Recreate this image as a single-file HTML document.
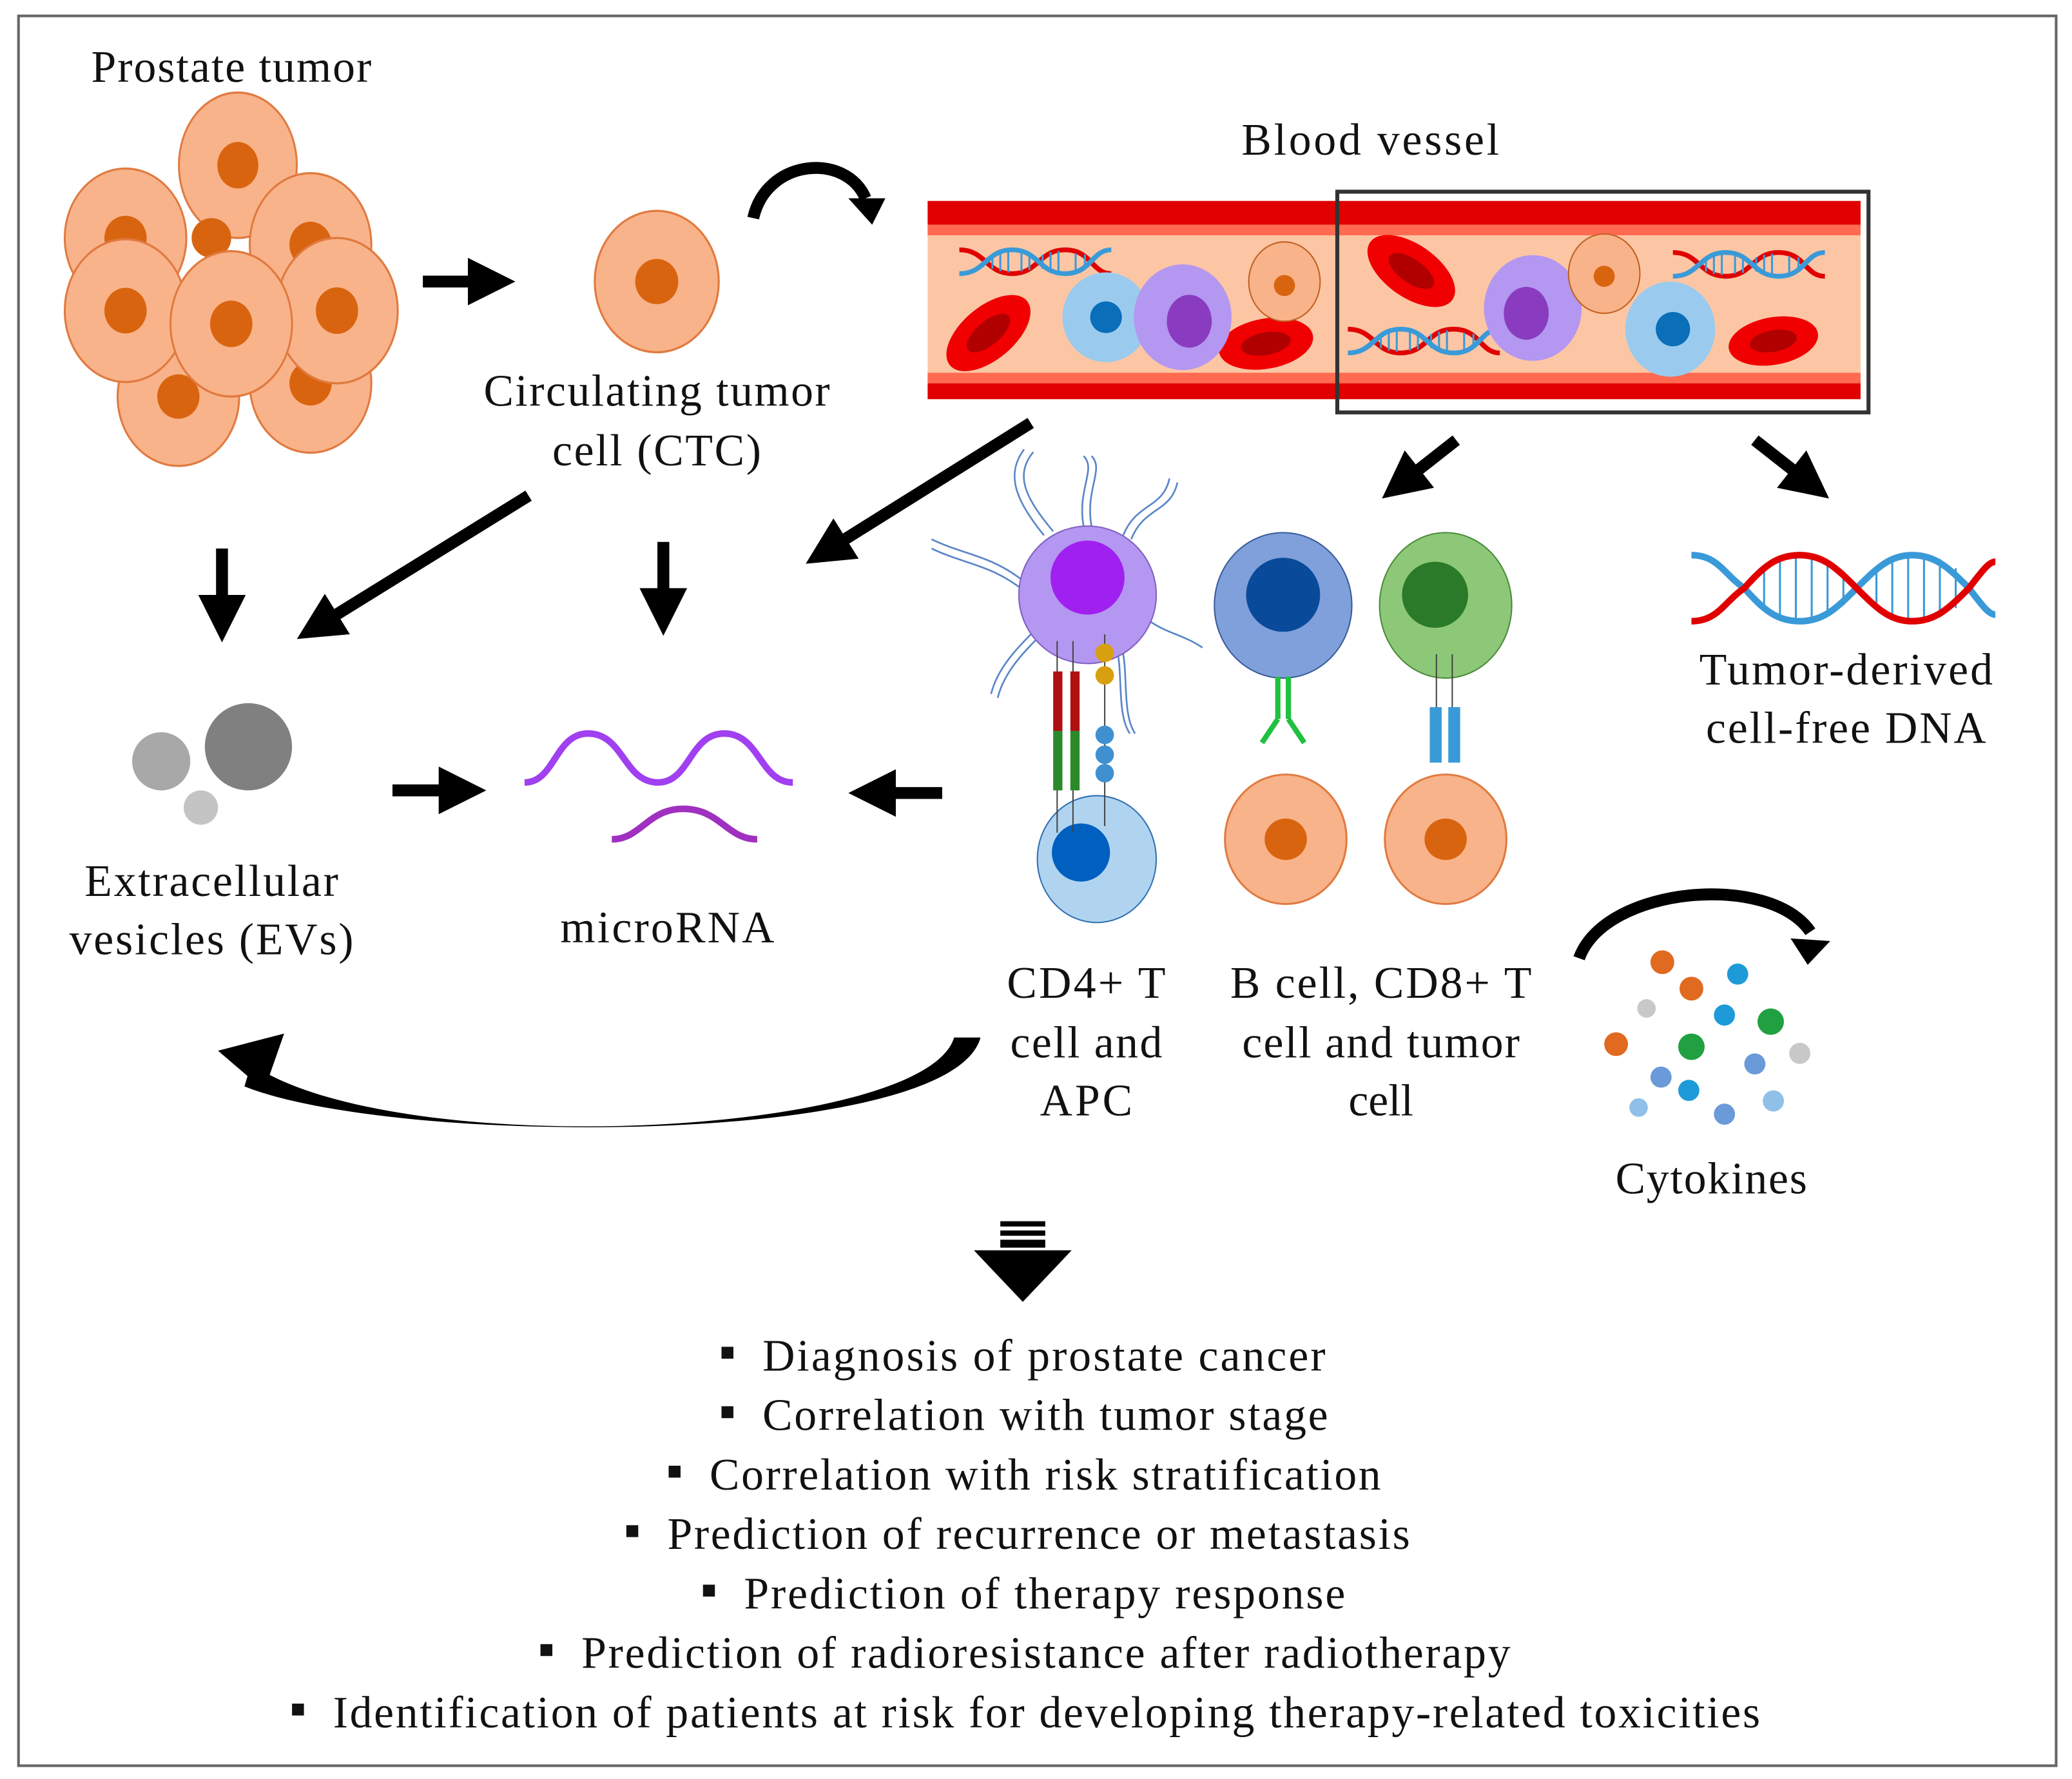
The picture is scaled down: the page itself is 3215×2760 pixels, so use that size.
<!DOCTYPE html>
<html><head><meta charset="utf-8"><style>
html,body{margin:0;padding:0;background:#fff;}
svg{display:block;}
text{font-family:"Liberation Serif",serif;fill:#111;}
</style></head><body>
<svg width="3215" height="2760" viewBox="0 0 1568 1346" xmlns="http://www.w3.org/2000/svg">
<defs>
<marker id="ah" markerWidth="4" markerHeight="4" refX="2" refY="2" orient="auto" markerUnits="strokeWidth"><path d="M0,0 L4,2 L0,4 Z" fill="#000"/></marker>
<g id="tc"><ellipse rx="46" ry="50" fill="#F9B38A" stroke="#E07A40" stroke-width="1.5"/><circle r="16" fill="#D96410"/></g>
<g id="dna"><path d="M0,10 C20,10 20,30 40,30 C60,30 60,10 80,10 C100,10 100,30 115,30" fill="none" stroke="#E00000" stroke-width="4"/><path d="M0,30 C20,30 20,10 40,10 C60,10 60,30 80,30 C100,30 100,10 115,10" fill="none" stroke="#3A9AD8" stroke-width="4"/><path d="M25,14v12M31,12v16M37,11v18M47,12v16M53,13v14M63,14v12M69,12v16M75,11v18M88,13v14M95,14v12" stroke="#3A9AD8" stroke-width="1.5"/></g>
<g id="rbc"><ellipse rx="38" ry="20" fill="#F00000"/><ellipse rx="20" ry="9" fill="#B00000"/></g>
</defs>
<rect x="14" y="12" width="1542" height="1324" fill="#fff" stroke="#666" stroke-width="2"/>

<g font-size="34">
<text x="175" y="62" text-anchor="middle" textLength="212" lengthAdjust="spacing">Prostate tumor</text>
<text x="497" y="307" text-anchor="middle" textLength="262" lengthAdjust="spacing">Circulating tumor</text>
<text x="497" y="352" text-anchor="middle" textLength="158" lengthAdjust="spacing">cell (CTC)</text>
<text x="1037" y="117" text-anchor="middle" textLength="195" lengthAdjust="spacing">Blood vessel</text>
<text x="160" y="678" text-anchor="middle" textLength="192" lengthAdjust="spacing">Extracellular</text>
<text x="160" y="722" text-anchor="middle" textLength="215" lengthAdjust="spacing">vesicles (EVs)</text>
<text x="505" y="713" text-anchor="middle" textLength="162" lengthAdjust="spacing">microRNA</text>
<text x="822" y="755" text-anchor="middle" textLength="120" lengthAdjust="spacing">CD4+ T</text>
<text x="822" y="800" text-anchor="middle" textLength="115" lengthAdjust="spacing">cell and</text>
<text x="822" y="844" text-anchor="middle" textLength="70" lengthAdjust="spacing">APC</text>
<text x="1045" y="755" text-anchor="middle" textLength="228" lengthAdjust="spacing">B cell, CD8+ T</text>
<text x="1045" y="800" text-anchor="middle" textLength="210" lengthAdjust="spacing">cell and tumor</text>
<text x="1045" y="844" text-anchor="middle">cell</text>
<text x="1397" y="518" text-anchor="middle" textLength="222" lengthAdjust="spacing">Tumor-derived</text>
<text x="1397" y="562" text-anchor="middle" textLength="212" lengthAdjust="spacing">cell-free DNA</text>
<text x="1295" y="903" text-anchor="middle" textLength="145" lengthAdjust="spacing">Cytokines</text>
</g>

<use href="#tc" transform="translate(180,125) scale(0.97,1.1)"/>
<use href="#tc" transform="translate(235,185) scale(1,1.08)"/>
<use href="#tc" transform="translate(95,180) scale(1,1.05)"/>
<circle cx="160" cy="180" r="15" fill="#D96410"/>
<use href="#tc" transform="translate(135,300) scale(1,1.05)"/>
<use href="#tc" transform="translate(235,290) scale(1,1.05)"/>
<use href="#tc" transform="translate(95,235) scale(1,1.08)"/>
<use href="#tc" transform="translate(255,235) scale(1,1.1)"/>
<use href="#tc" transform="translate(175,245) scale(1,1.1)"/>

<line x1="320" y1="213" x2="372" y2="213" stroke="#000" stroke-width="9" marker-end="url(#ah)"/>
<use href="#tc" transform="translate(497,213) scale(1.02,1.07)"/>

<path d="M570,165 C580,120 640,115 655,150" fill="none" stroke="#000" stroke-width="9"/>
<path d="M642,150 L670,150 L660,170 Z" fill="#000"/>

<rect x="702" y="152" width="706" height="148" fill="#FCC6A4"/>
<rect x="702" y="152" width="706" height="18" fill="#E00000"/>
<rect x="702" y="170" width="706" height="8" fill="#FF6A50"/>
<rect x="702" y="282" width="706" height="8" fill="#FF6A50"/>
<rect x="702" y="290" width="706" height="12" fill="#E00000"/>
<use href="#dna" transform="translate(726,180) scale(1,0.9)"/>
<use href="#dna" transform="translate(1266,182) scale(1,0.9)"/>
<use href="#dna" transform="translate(1020,240) scale(1,0.9)"/>
<use href="#rbc" transform="translate(748,252) rotate(-40)"/>
<use href="#rbc" transform="translate(1068,205) rotate(35)"/>
<use href="#rbc" transform="translate(958,260) rotate(-10) scale(0.95)"/>
<use href="#rbc" transform="translate(1342,258) rotate(-10) scale(0.9)"/>
<ellipse cx="837" cy="240" rx="33" ry="34" fill="#9ACBEE"/><circle cx="837" cy="240" r="12" fill="#0A6EB8"/>
<ellipse cx="1264" cy="249" rx="34" ry="36" fill="#9ACBEE"/><circle cx="1266" cy="249" r="13" fill="#0A6EB8"/>
<ellipse cx="895" cy="240" rx="37" ry="40" fill="#B497F0"/><ellipse cx="900" cy="243" rx="17" ry="20" fill="#8A3CC0"/>
<ellipse cx="1160" cy="233" rx="37" ry="40" fill="#B497F0"/><ellipse cx="1155" cy="237" rx="17" ry="20" fill="#8A3CC0"/>
<ellipse cx="972" cy="213" rx="27" ry="30" fill="#F9B38A" stroke="#C06020"/><circle cx="972" cy="216" r="8" fill="#D96410"/>
<ellipse cx="1214" cy="207" rx="27" ry="30" fill="#F9B38A" stroke="#C06020"/><circle cx="1214" cy="209" r="8" fill="#D96410"/>
<rect x="1012" y="145" width="402" height="167" fill="none" stroke="#333" stroke-width="3"/>

<line x1="780" y1="320" x2="625" y2="417" stroke="#000" stroke-width="9" marker-end="url(#ah)"/>
<line x1="400" y1="375" x2="240" y2="474" stroke="#000" stroke-width="9" marker-end="url(#ah)"/>
<line x1="168" y1="415" x2="168" y2="468" stroke="#000" stroke-width="9" marker-end="url(#ah)"/>
<line x1="502" y1="410" x2="502" y2="463" stroke="#000" stroke-width="9" marker-end="url(#ah)"/>
<line x1="1102" y1="333" x2="1060" y2="366" stroke="#000" stroke-width="9" marker-end="url(#ah)"/>
<line x1="1328" y1="333" x2="1370" y2="366" stroke="#000" stroke-width="9" marker-end="url(#ah)"/>
<line x1="297" y1="598" x2="350" y2="598" stroke="#000" stroke-width="9" marker-end="url(#ah)"/>
<line x1="713" y1="600" x2="660" y2="600" stroke="#000" stroke-width="9" marker-end="url(#ah)"/>

<circle cx="188" cy="565" r="33" fill="#808080"/>
<circle cx="122" cy="576" r="22" fill="#A8A8A8"/>
<circle cx="152" cy="611" r="13" fill="#C4C4C4"/>

<path d="M397,592 C420,592 420,555 445,555 C472,555 472,592 498,592 C522,592 522,555 548,555 C575,555 575,592 600,592" fill="none" stroke="#A040F0" stroke-width="5"/>
<path d="M463,635 C485,635 490,612 517,612 C545,612 550,635 573,635" fill="none" stroke="#A030C0" stroke-width="5"/>

<g fill="none" stroke="#5A86C8" stroke-width="1.3">
<path d="M790,405 C770,380 760,360 775,340 M797,402 C777,378 767,360 782,342"/>
<path d="M820,398 C815,370 830,355 820,345 M826,398 C821,370 836,355 826,345"/>
<path d="M850,405 C860,380 880,385 885,362 M856,408 C866,383 886,388 891,365"/>
<path d="M775,440 C750,420 730,420 705,408 M775,447 C750,427 730,427 705,415"/>
<path d="M870,470 C885,480 895,480 910,490"/>
<path d="M785,475 C770,490 755,505 750,525 M790,478 C775,493 760,508 755,528"/>
<path d="M845,490 C850,510 845,540 855,555 M849,490 C854,510 849,540 859,555"/>
</g>
<circle cx="823" cy="450" r="52" fill="#B497F0" stroke="#8060C0" stroke-width="1"/>
<circle cx="823" cy="437" r="28" fill="#A020F0"/>
<ellipse cx="830" cy="650" rx="45" ry="48" fill="#B0D4F0" stroke="#3070B0" stroke-width="1"/>
<circle cx="818" cy="645" r="22" fill="#0060C0"/>
<g stroke="#444" stroke-width="1"><line x1="800" y1="485" x2="800" y2="630"/><line x1="812" y1="485" x2="812" y2="630"/><line x1="836" y1="480" x2="836" y2="625"/></g>
<rect x="797" y="508" width="7" height="45" fill="#B01010"/><rect x="810" y="508" width="7" height="45" fill="#B01010"/>
<rect x="797" y="553" width="7" height="45" fill="#2A8A2A"/><rect x="810" y="553" width="7" height="45" fill="#2A8A2A"/>
<circle cx="836" cy="494" r="7" fill="#D8A010"/><circle cx="836" cy="511" r="7" fill="#D8A010"/>
<circle cx="836" cy="556" r="7" fill="#4090D0"/><circle cx="836" cy="571" r="7" fill="#4090D0"/><circle cx="836" cy="585" r="7" fill="#4090D0"/>

<ellipse cx="971" cy="458" rx="52" ry="55" fill="#7FA0DA" stroke="#3A5A9A" stroke-width="1"/>
<circle cx="971" cy="450" r="28" fill="#0A4A9A"/>
<g stroke="#20C040" stroke-width="4" fill="none"><path d="M967,512 v32 M975,512 v32 M967,544 l-12,18 M975,544 l12,18"/></g>
<ellipse cx="1094" cy="458" rx="50" ry="55" fill="#8DC878" stroke="#4A8A3A" stroke-width="1"/>
<circle cx="1086" cy="450" r="25" fill="#2A7A2A"/>
<g stroke="#444" stroke-width="1"><line x1="1087" y1="495" x2="1087" y2="545"/><line x1="1099" y1="495" x2="1099" y2="545"/></g>
<rect x="1082" y="535" width="9" height="42" fill="#3A9AD8"/><rect x="1096" y="535" width="9" height="42" fill="#3A9AD8"/>
<use href="#tc" transform="translate(973,635) scale(1,0.98)"/>
<use href="#tc" transform="translate(1094,635) scale(1,0.98)"/>

<path d="M1335,428v34M1347,423v44M1359,421v48M1371,421v48M1383,424v42M1395,432v26M1420,432v26M1432,424v42M1444,421v48M1456,421v48M1468,423v44M1480,430v30" stroke="#3A9AD8" stroke-width="1.5"/>
<path d="M1280,420 C1300,420 1305,435 1320,445 C1335,462 1345,470 1362,470 C1380,470 1390,460 1405,445 C1420,430 1430,420 1447,420 C1465,420 1475,430 1490,445 C1500,458 1505,465 1510,465" fill="none" stroke="#3A9AD8" stroke-width="5"/>
<path d="M1280,470 C1300,470 1305,455 1320,445 C1335,428 1345,420 1362,420 C1380,420 1390,430 1405,445 C1420,460 1430,470 1447,470 C1465,470 1475,460 1490,445 C1500,432 1505,425 1510,425" fill="none" stroke="#E00000" stroke-width="5"/>

<path d="M1195,725 C1215,670 1340,660 1370,705" fill="none" stroke="#000" stroke-width="9"/>
<path d="M1355,710 L1385,712 L1368,730 Z" fill="#000"/>
<g>
<circle cx="1258" cy="728" r="9" fill="#E06A20"/><circle cx="1280" cy="748" r="9" fill="#E06A20"/><circle cx="1223" cy="790" r="9" fill="#E06A20"/>
<circle cx="1315" cy="737" r="8" fill="#1E9AD8"/><circle cx="1305" cy="768" r="8" fill="#1E9AD8"/><circle cx="1278" cy="825" r="8" fill="#1E9AD8"/>
<circle cx="1340" cy="773" r="10" fill="#20A040"/><circle cx="1280" cy="792" r="10" fill="#20A040"/>
<circle cx="1246" cy="763" r="7" fill="#C8C8C8"/><circle cx="1362" cy="797" r="8" fill="#C8C8C8"/>
<circle cx="1257" cy="815" r="8" fill="#6A9AD8"/><circle cx="1328" cy="805" r="8" fill="#6A9AD8"/><circle cx="1305" cy="843" r="8" fill="#6A9AD8"/>
<circle cx="1240" cy="838" r="7" fill="#90C0E8"/><circle cx="1342" cy="833" r="8" fill="#90C0E8"/>
</g>

<path d="M722,785 C700,860 300,880 190,805 L185,822 C300,868 720,868 742,785 Z" fill="#000"/>
<path d="M165,795 L215,782 L200,825 Z" fill="#000"/>

<rect x="757" y="924" width="34" height="4" fill="#000"/>
<rect x="757" y="931" width="34" height="4" fill="#000"/>
<rect x="757" y="938" width="34" height="6" fill="#000"/>
<path d="M737,946 L811,946 L774,985 Z" fill="#000"/>

<g font-size="34">
<rect x="546" y="1019" width="9" height="9" fill="#111"/><text x="577" y="1037" textLength="426" lengthAdjust="spacing">Diagnosis of prostate cancer</text>
<rect x="546" y="1064" width="9" height="9" fill="#111"/><text x="577" y="1082" textLength="428" lengthAdjust="spacing">Correlation with tumor  stage</text>
<rect x="506" y="1109" width="9" height="9" fill="#111"/><text x="537" y="1127" textLength="508" lengthAdjust="spacing">Correlation with risk stratification</text>
<rect x="474" y="1154" width="9" height="9" fill="#111"/><text x="505" y="1172" textLength="562" lengthAdjust="spacing">Prediction of recurrence or metastasis</text>
<rect x="532" y="1199" width="9" height="9" fill="#111"/><text x="563" y="1217" textLength="455" lengthAdjust="spacing">Prediction of therapy response</text>
<rect x="409" y="1244" width="9" height="9" fill="#111"/><text x="440" y="1262" textLength="703" lengthAdjust="spacing">Prediction of radioresistance after radiotherapy</text>
<rect x="221" y="1289" width="9" height="9" fill="#111"/><text x="252" y="1307" textLength="1080" lengthAdjust="spacing">Identification of patients at risk for developing therapy-related toxicities</text>
</g>
</svg>
</body></html>
